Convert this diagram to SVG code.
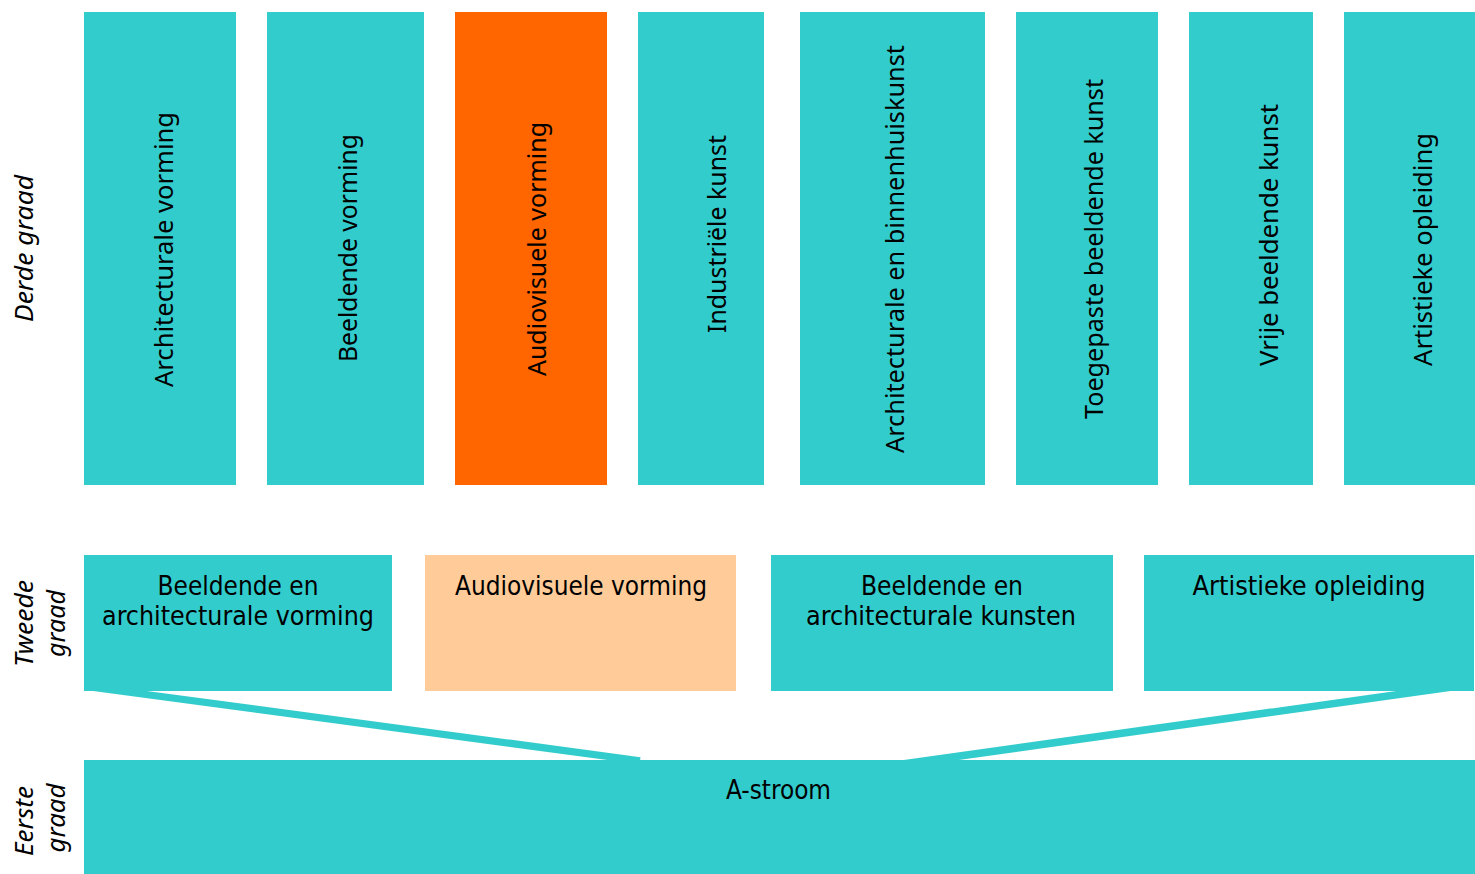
<svg xmlns="http://www.w3.org/2000/svg" width="1475" height="874" viewBox="0 0 1475 874">
<style>
.teal{fill:#33CCCC}
.orange{fill:#FF6600}
.peach{fill:#FFCC99}
.vt{font-family:"Noto Sans","Open Sans","DejaVu Sans",sans-serif;font-size:25px;fill:#000;text-anchor:middle}
.ht{font-family:"DejaVu Sans Condensed","DejaVu Sans",sans-serif;font-size:27px;fill:#000;text-anchor:middle}
.lb{font-family:"Noto Sans","Open Sans","DejaVu Sans",sans-serif;font-size:26px;font-style:italic;fill:#000;text-anchor:middle}
.conn{stroke:#33CCCC;fill:none;stroke-linecap:butt}
</style>
<rect width="1475" height="874" fill="#fff"/>
<g id="labels">
<text class="lb" transform="translate(33,248.5) rotate(-90)" textLength="147" lengthAdjust="spacingAndGlyphs">Derde graad</text>
<text class="lb" transform="translate(33,623.5) rotate(-90)" textLength="87" lengthAdjust="spacingAndGlyphs">Tweede</text>
<text class="lb" transform="translate(65,623.5) rotate(-90)" textLength="67" lengthAdjust="spacingAndGlyphs">graad</text>
<text class="lb" transform="translate(33,821) rotate(-90)" textLength="70" lengthAdjust="spacingAndGlyphs">Eerste</text>
<text class="lb" transform="translate(65,818) rotate(-90)" textLength="69" lengthAdjust="spacingAndGlyphs">graad</text>
</g>
<g id="connectors">
<line class="conn" x1="88" y1="686.7" x2="640" y2="760.7" stroke-width="7.2"/>
<line class="conn" x1="1450" y1="687.2" x2="890" y2="765.8" stroke-width="7.6"/>
</g>
<g id="d1"><rect class="teal" x="84" y="12" width="152" height="473"/><text class="vt" transform="translate(173,249.5) rotate(-90)" textLength="275" lengthAdjust="spacingAndGlyphs">Architecturale vorming</text></g>
<g id="d2"><rect class="teal" x="267" y="12" width="157" height="473"/><text class="vt" transform="translate(357,248) rotate(-90)" textLength="228" lengthAdjust="spacingAndGlyphs">Beeldende vorming</text></g>
<g id="d3"><rect class="orange" x="455" y="12" width="152" height="473"/><text class="vt" transform="translate(546,249) rotate(-90)" textLength="254" lengthAdjust="spacingAndGlyphs">Audiovisuele vorming</text></g>
<g id="d4"><rect class="teal" x="638" y="12" width="126" height="473"/><text class="vt" transform="translate(726,234) rotate(-90)" textLength="198" lengthAdjust="spacingAndGlyphs">Industriële kunst</text></g>
<g id="d5"><rect class="teal" x="800" y="12" width="185" height="473"/><text class="vt" transform="translate(904,249) rotate(-90)" textLength="408" lengthAdjust="spacingAndGlyphs">Architecturale en binnenhuiskunst</text></g>
<g id="d6"><rect class="teal" x="1016" y="12" width="142" height="473"/><text class="vt" transform="translate(1103,249) rotate(-90)" textLength="340" lengthAdjust="spacingAndGlyphs">Toegepaste beeldende kunst</text></g>
<g id="d7"><rect class="teal" x="1189" y="12" width="124" height="473"/><text class="vt" transform="translate(1278,235) rotate(-90)" textLength="262" lengthAdjust="spacingAndGlyphs">Vrije beeldende kunst</text></g>
<g id="d8"><rect class="teal" x="1344" y="12" width="131" height="473"/><text class="vt" transform="translate(1432,249.5) rotate(-90)" textLength="233" lengthAdjust="spacingAndGlyphs">Artistieke opleiding</text></g>
<g id="t1"><rect class="teal" x="84" y="555" width="308" height="136"/><text class="ht" x="238" y="595" textLength="161" lengthAdjust="spacingAndGlyphs">Beeldende en</text><text class="ht" x="238" y="625" textLength="272" lengthAdjust="spacingAndGlyphs">architecturale vorming</text></g>
<g id="t2"><rect class="peach" x="425" y="555" width="311" height="136"/><text class="ht" x="581" y="595" textLength="252" lengthAdjust="spacingAndGlyphs">Audiovisuele vorming</text></g>
<g id="t3"><rect class="teal" x="771" y="555" width="342" height="136"/><text class="ht" x="942" y="595" textLength="162" lengthAdjust="spacingAndGlyphs">Beeldende en</text><text class="ht" x="941" y="625" textLength="270" lengthAdjust="spacingAndGlyphs">architecturale kunsten</text></g>
<g id="t4"><rect class="teal" x="1144" y="555" width="330" height="136"/><text class="ht" x="1309" y="595" textLength="233" lengthAdjust="spacingAndGlyphs">Artistieke opleiding</text></g>
<g id="e1"><rect class="teal" x="84" y="760" width="1391" height="114"/><text class="ht" x="778.5" y="799" textLength="105" lengthAdjust="spacingAndGlyphs">A-stroom</text></g>
</svg>
